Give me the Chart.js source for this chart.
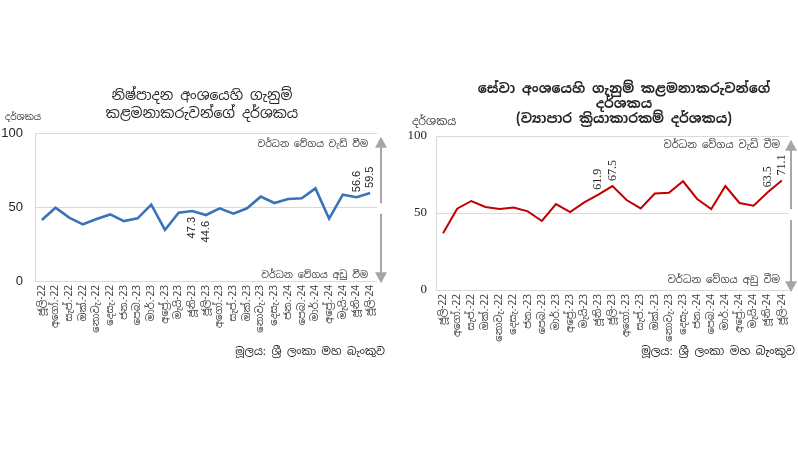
<!DOCTYPE html>
<html>
<head>
<meta charset="utf-8">
<script src="https://cdn.jsdelivr.net/npm/chart.js@4"></script>
<style>
  html, body { margin: 0; padding: 0; background: #fff; }
  #wrap { position: relative; width: 798px; height: 458px; overflow: hidden; }
  .box { position: absolute; top: 0; height: 458px; }
</style>
</head>
<body>
<div id="wrap">
  <div class="box" style="left:0;width:400px"><canvas id="mfgChart" width="400" height="458"></canvas></div>
  <div class="box" style="left:400px;width:398px"><canvas id="svcChart" width="398" height="458"></canvas></div>
</div>
<script>
// months, July 2022 .. July 2024
const months = [
  'ජූලි-22', 'අගෝ.-22', 'සැප්.-22', 'ඔක්.-22', 'නොවැ.-22', 'දෙසැ.-22',
  'ජන.-23', 'පෙබ.-23', 'මාර්.-23', 'අප්‍රේ.-23', 'මැයි-23', 'ජූනි-23',
  'ජූලි-23', 'අගෝ.-23', 'සැප්.-23', 'ඔක්.-23', 'නොවැ.-23', 'දෙසැ.-23',
  'ජන.-24', 'පෙබ.-24', 'මාර්.-24', 'අප්‍රේ.-24', 'මැයි-24', 'ජූනි-24', 'ජූලි-24'
];

// manufacturing PMI
const mfgValues = [
  41.2, 49.5, 42.8, 38.3, 41.9, 45.0, 40.5, 42.3, 51.6, 34.5, 46.2, 47.3,
  44.6, 49.1, 45.5, 49.1, 57.0, 52.7, 55.4, 55.9, 62.6, 42.1, 58.3, 56.6, 59.5
];

// services PMI (business activity index)
const svcValues = [
  36.8, 52.8, 57.8, 53.9, 52.6, 53.5, 51.1, 44.8, 55.8, 50.6, 56.9, 61.9,
  67.5, 58.4, 53.0, 62.6, 63.2, 70.6, 59.1, 52.6, 67.5, 56.5, 54.7, 63.5, 71.1
];

// which points carry a value label, and on which side
const labelIdx = [11, 12, 23, 24];
const mfgLabelSide = ['below', 'below', 'above', 'above'];
const svcLabelSide = ['above', 'above', 'above', 'above'];

const yMin = 0, yMax = 100, yStep = 50;

const SI = '"Noto Sans Sinhala","Iskoola Pota","Nirmala UI","Noto Sans",sans-serif';
const SANS = '"Liberation Sans",Arial,sans-serif';
const SERIF = '"Liberation Serif","Times New Roman",serif';
const ARROW = '#a6a6a6';

function drawArrow(ctx, x, y1, y2) {
  // y1 start (line end), y2 tip
  const dir = y2 < y1 ? -1 : 1;
  ctx.save();
  ctx.strokeStyle = ARROW;
  ctx.fillStyle = ARROW;
  ctx.lineWidth = 2;
  ctx.beginPath();
  ctx.moveTo(x, y1);
  ctx.lineTo(x, y2 - dir * 9);
  ctx.stroke();
  ctx.beginPath();
  ctx.moveTo(x, y2);
  ctx.lineTo(x - 6, y2 - dir * 11);
  ctx.lineTo(x + 6, y2 - dir * 11);
  ctx.closePath();
  ctx.fill();
  ctx.restore();
}

const overlay = {
  id: 'overlay',
  afterDatasetsDraw(chart, args, o) {
    const ctx = chart.ctx;
    const y = chart.scales.y;
    const x = chart.scales.x;
    ctx.save();

    // title
    ctx.fillStyle = '#262626';
    ctx.textAlign = 'center';
    ctx.textBaseline = 'middle';
    ctx.font = o.titleFont;
    o.title.forEach((t, i) => ctx.fillText(t, o.titleX, o.titleY[i]));

    // y axis caption
    ctx.font = o.capFont;
    ctx.fillStyle = '#404040';
    ctx.textAlign = 'left';
    ctx.fillText('දර්ශකය', o.yTitleX, o.yTitleY);

    // arrows
    drawArrow(ctx, o.arrowX, y.getPixelForValue(52.5), y.getPixelForValue(97.5));
    drawArrow(ctx, o.arrowX, y.getPixelForValue(45.5), y.getPixelForValue(-1.5));
    ctx.font = o.noteFont;
    ctx.fillStyle = '#404040';
    ctx.textAlign = 'right';
    ctx.fillText('වර්ධන වේගය වැඩි වීම', o.noteRight, o.upNoteY);
    ctx.fillText('වර්ධන වේගය අඩු වීම', o.noteRight, o.downNoteY);

    // source
    ctx.font = o.srcFont;
    ctx.fillStyle = '#262626';
    ctx.fillText('මූලය: ශ්‍රී ලංකා මහ බැංකුව', o.sourceRight, o.sourceY);

    // value labels
    const ds = chart.data.datasets[0].data;
    ctx.font = o.labelFont;
    ctx.fillStyle = '#262626';
    ctx.textBaseline = 'middle';
    o.labelIdx.forEach((idx, k) => {
      const px = x.getPixelForValue(idx);
      const py = y.getPixelForValue(ds[idx]);
      const above = o.labelSide[k] === 'above';
      ctx.save();
      ctx.translate(px, above ? py - 5 : py + 6);
      ctx.rotate(-Math.PI / 2);
      ctx.textAlign = above ? 'left' : 'right';
      ctx.fillText(ds[idx].toFixed(1), 0, 0);
      ctx.restore();
    });
    ctx.restore();
  }
};

function makeChart(id, values, color, lineWidth, numFont, pad, yWidth, tickPad, ov) {
  return new Chart(document.getElementById(id), {
    type: 'line',
    data: {
      labels: months,
      datasets: [{
        data: values,
        borderColor: color,
        borderWidth: lineWidth,
        pointRadius: 0,
        tension: 0,
        fill: false
      }]
    },
    options: {
      responsive: false,
      animation: false,
      layout: { padding: pad },
      plugins: {
        legend: { display: false },
        tooltip: { enabled: false },
        title: { display: false },
        overlay: ov
      },
      scales: {
        x: {
          offset: true,
          grid: { display: false, drawTicks: false },
          border: { display: false },
          afterFit: s => { s.height = 60; },
          ticks: {
            autoSkip: false,
            minRotation: 90,
            maxRotation: 90,
            padding: 4,
            color: '#404040',
            font: { size: 10, family: SI }
          }
        },
        y: {
          min: yMin,
          max: yMax,
          afterFit: s => { s.width = yWidth; },
          grid: { color: '#d9d9d9', lineWidth: 1, drawTicks: false },
          border: { display: true, color: '#d9d9d9' },
          ticks: {
            stepSize: yStep,
            padding: tickPad,
            color: '#262626',
            font: { size: 13, family: numFont }
          }
        }
      }
    },
    plugins: [overlay]
  });
}

makeChart('mfgChart', mfgValues, '#3b73b9', 2.6, SANS,
  { top: 133, right: 23, bottom: 117, left: 0 }, 35, 12, {
    title: ['නිෂ්පාදන අංශයෙහි ගැනුම්', 'කළමනාකරුවන්ගේ දර්ශකය'],
    titleFont: '14px ' + SI,
    titleX: 202, titleY: [96, 114],
    capFont: '9px ' + SI,
    yTitleX: 5, yTitleY: 118,
    arrowX: 381, noteRight: 368, upNoteY: 144, downNoteY: 275,
    noteFont: '9.5px ' + SI,
    sourceRight: 385, sourceY: 352,
    srcFont: '11px ' + SI,
    labelFont: '11px ' + SANS,
    labelIdx: labelIdx, labelSide: mfgLabelSide
  });

makeChart('svcChart', svcValues, '#c00000', 2, SERIF,
  { top: 136, right: 8, bottom: 108, left: 0 }, 36, 9, {
    title: ['සේවා අංශයෙහි ගැනුම් කළමනාකරුවන්ගේ', 'දර්ශකය', '(ව්‍යාපාර ක්‍රියාකාරකම් දර්ශකය)'],
    titleFont: 'bold 13.5px ' + SI,
    titleX: 224, titleY: [89, 104, 119],
    capFont: '11px ' + SI,
    yTitleX: 12, yTitleY: 122,
    arrowX: 391, noteRight: 380, upNoteY: 145, downNoteY: 280,
    noteFont: '10px ' + SI,
    sourceRight: 395, sourceY: 352,
    srcFont: '11.3px ' + SI,
    labelFont: '12px ' + SERIF,
    labelIdx: labelIdx, labelSide: svcLabelSide
  });
</script>
</body>
</html>
